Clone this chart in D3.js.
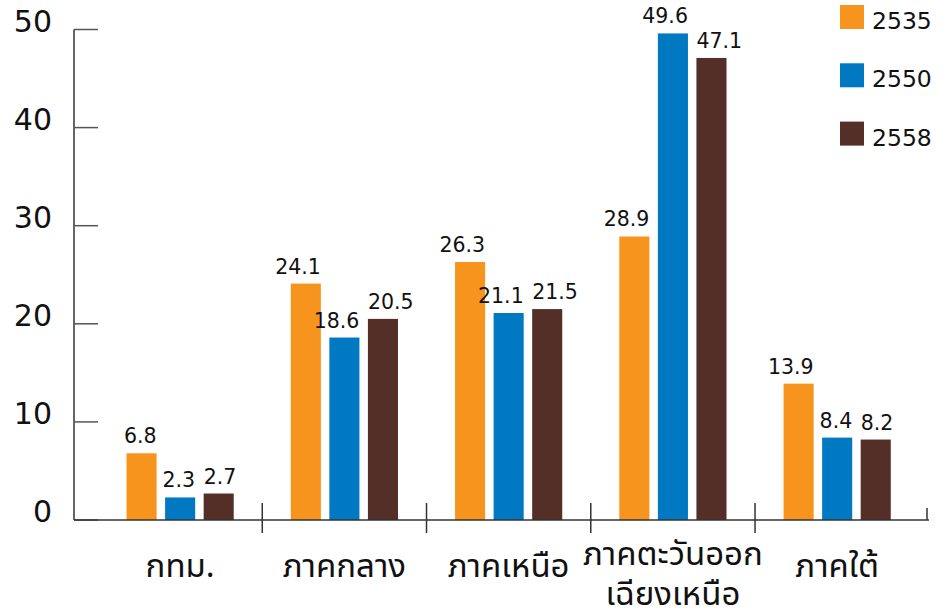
<!DOCTYPE html>
<html>
<head>
<meta charset="utf-8">
<script src="https://cdn.jsdelivr.net/npm/d3@7"></script>
<style>
  html, body { margin: 0; padding: 0; background: #fff; }
  svg { display: block; font-family: "DejaVu Sans", sans-serif; }
</style>
</head>
<body>
<svg id="chart" width="945" height="613"></svg>
<script>
const categories = [["กทม."], ["ภาคกลาง"], ["ภาคเหนือ"], ["ภาคตะวันออก", "เฉียงเหนือ"], ["ภาคใต้"]];
const series = ["2535", "2550", "2558"];
const values2535 = [6.8, 24.1, 26.3, 28.9, 13.9];
const values2550 = [2.3, 18.6, 21.1, 49.6, 8.4];
const values2558 = [2.7, 20.5, 21.5, 47.1, 8.2];
const yTicks = [0, 10, 20, 30, 40, 50];
const colors = ["#F7941D", "#0079C2", "#542F27"];

const seriesValues = [values2535, values2550, values2558];
const catKeys = categories.map(c => c.join(" "));

const svg = d3.select("#chart");
const y = d3.scaleLinear().domain([0, 50]).range([520, 29.5]);
const x = d3.scaleBand().domain(catKeys).range([98, 919.3]).padding(0);
const xs = d3.scaleBand().domain(series).range([0, x.bandwidth()])
  .paddingInner(0.22).paddingOuter(0.74);

const axisColor = "#333";

// y axis
const gy = svg.append("g");
gy.append("line").attr("x1", 74).attr("x2", 74).attr("y1", y(50)).attr("y2", y(0))
  .attr("stroke", axisColor).attr("stroke-width", 1.5);
gy.selectAll("line.tick").data(yTicks).join("line").attr("class", "tick")
  .attr("x1", 74).attr("x2", 98).attr("y1", d => y(d)).attr("y2", d => y(d))
  .attr("stroke", "#555").attr("stroke-width", 1.5);
gy.selectAll("text").data(yTicks).join("text")
  .attr("x", 52).attr("y", d => y(d) + 2.2).attr("text-anchor", "end")
  .attr("font-size", 30).attr("fill", "#111").text(d => d);

// bars
const rows = [];
catKeys.forEach((c, i) => series.forEach((s, j) => rows.push({c, s, j, v: seriesValues[j][i]})));
svg.append("g").selectAll("rect").data(rows).join("rect")
  .attr("x", d => x(d.c) + xs(d.s)).attr("width", xs.bandwidth())
  .attr("y", d => y(d.v)).attr("height", d => y(0) - y(d.v))
  .attr("fill", d => colors[d.j]);

// value labels
svg.append("g").selectAll("text").data(rows).join("text")
  .attr("x", d => d.j < 2 ? x(d.c) + xs(d.s) + xs.bandwidth() : x(d.c) + xs(d.s))
  .attr("text-anchor", d => d.j < 2 ? "end" : "start")
  .attr("y", d => y(d.v) - 10)
  .attr("font-size", 20.5).attr("fill", "#111")
  .text(d => d3.format(".1f")(d.v));

// x axis
const gx = svg.append("g");
gx.append("line").attr("x1", 74).attr("x2", 929).attr("y1", y(0)).attr("y2", y(0))
  .attr("stroke", axisColor).attr("stroke-width", 1.5);
gx.selectAll("line.sep").data(catKeys.slice(1)).join("line").attr("class", "sep")
  .attr("x1", d => x(d)).attr("x2", d => x(d)).attr("y1", 503).attr("y2", 533)
  .attr("stroke", axisColor).attr("stroke-width", 1.5);
gx.append("line").attr("x1", 927).attr("x2", 927).attr("y1", 508).attr("y2", y(0))
  .attr("stroke", axisColor).attr("stroke-width", 1.5);

// category labels
categories.forEach((lines, i) => {
  const cx = x(catKeys[i]) + x.bandwidth() / 2;
  const base = lines.length > 1 ? 565 : 577;
  const t = gx.append("text").attr("text-anchor", "middle").attr("font-size", 33).attr("fill", "#111")
    .style("font-family", '"Noto Sans Thai UI", "Noto Sans Thai", "Noto Sans", sans-serif');
  lines.forEach((ln, k) => t.append("tspan").attr("x", cx).attr("y", base + k * 40).text(ln));
});

// legend
const lg = svg.append("g");
series.forEach((s, j) => {
  const ly = 5 + j * 58.3;
  lg.append("rect").attr("x", 840).attr("y", ly).attr("width", 24).attr("height", 24).attr("fill", colors[j]);
  lg.append("text").attr("x", 872).attr("y", ly + 24).attr("font-size", 23.5).attr("fill", "#111").text(s);
});
</script>
</body>
</html>
